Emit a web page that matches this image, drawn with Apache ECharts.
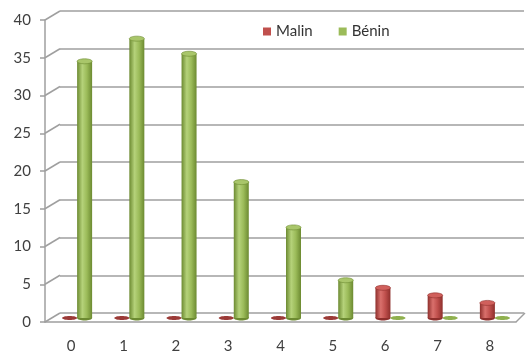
<!DOCTYPE html>
<html>
<head>
<meta charset="utf-8">
<script src="https://cdn.jsdelivr.net/npm/echarts@6/dist/echarts.min.js"></script>
<style>
  html, body { margin: 0; background: #fff; }
  #chart { width: 527px; height: 360px; }
</style>
</head>
<body>
<div id="chart"></div>
<script>
// données
const categories = ['0', '1', '2', '3', '4', '5', '6', '7', '8'];
const malin = [0, 0, 0, 0, 0, 0, 4, 3, 2];
const benin = [34, 37, 35, 18, 12, 5, 0, 0, 0];
const yTicks = [0, 5, 10, 15, 20, 25, 30, 35, 40];

const FONT = 'Lato';
const GRID_COLOR = '#9f9f9f';

const chart = echarts.init(document.getElementById('chart'));

// cylindre façon Excel : corps dégradé + ellipses haut/bas
function cylinder(shift, c) {
  return function (params, api) {
    const i = api.value(0), v = api.value(1);
    const top = api.coord([i, v]);
    const base = api.coord([i, 0]);
    const w = 15, rx = w / 2, ry = 2.5;
    const cx = top[0] + shift;
    if (!v) {
      return {
        type: 'ellipse',
        shape: { cx: cx, cy: base[1], rx: rx, ry: 2 },
        style: { fill: c.flat }
      };
    }
    return {
      type: 'group',
      children: [
        { type: 'ellipse', shape: { cx: cx, cy: base[1], rx: rx, ry: ry }, style: { fill: c.dark } },
        {
          type: 'rect',
          shape: { x: cx - rx, y: top[1], width: w, height: base[1] - top[1] },
          style: {
            fill: new echarts.graphic.LinearGradient(0, 0, 1, 0, [
              { offset: 0, color: c.dark },
              { offset: 0.35, color: c.light },
              { offset: 0.65, color: c.base },
              { offset: 1, color: c.dark }
            ])
          }
        },
        { type: 'ellipse', shape: { cx: cx, cy: top[1], rx: rx, ry: ry },
          style: { fill: c.top, stroke: c.dark, lineWidth: 0.6 } }
      ]
    };
  };
}

const red = { base: '#c0504d', light: '#d9706c', dark: '#8e2f2c', top: '#d0605c', flat: '#9b3a37' };
const green = { base: '#9bbb59', light: '#b5d27a', dark: '#6c8a31', top: '#a9c66a', flat: '#8fb04e' };

// diagonales du mur gauche (avant -> fond)
function wallDiagonal(params, api) {
  const v = api.value(0);
  const p = api.coord([0, v]);
  const x0 = params.coordSys.x;
  const x1 = x0 + params.coordSys.width;
  const children = [{
    type: 'line',
    shape: { x1: x0, y1: p[1], x2: x0 + 15, y2: p[1] - 9 },
    style: { stroke: GRID_COLOR, lineWidth: 1.5 }
  }];
  if (v === 0) {
    children.push({
      type: 'line',
      shape: { x1: x1, y1: p[1], x2: x1 + 9, y2: p[1] - 9 },
      style: { stroke: GRID_COLOR, lineWidth: 1.5 }
    });
  }
  return { type: 'group', children: children };
}

const option = {
  backgroundColor: '#fff',
  animation: false,
  legend: {
    left: 258,
    top: 19,
    itemWidth: 8,
    itemHeight: 8,
    itemGap: 26,
    icon: 'rect',
    textStyle: { fontFamily: FONT, fontSize: 15, color: '#333' },
    data: ['Malin', 'Bénin']
  },
  grid: [
    // avant : axes et libellés
    { left: 45, right: 11, top: 20, bottom: 38 },
    // fond : lignes de grille
    { left: 60, right: 3, top: 11, bottom: 47 },
    // milieu : cylindres
    { left: 51, right: 6, top: 16, bottom: 42 }
  ],
  xAxis: [
    {
      gridIndex: 0, type: 'category', data: categories,
      axisLine: { lineStyle: { color: GRID_COLOR, width: 1.5 } },
      axisTick: { lineStyle: { color: GRID_COLOR, width: 1.5 }, length: 6 },
      axisLabel: { fontFamily: FONT, fontSize: 15, color: '#404040', margin: 17 }
    },
    { gridIndex: 1, type: 'category', data: categories, show: false },
    { gridIndex: 2, type: 'category', data: categories, show: false }
  ],
  yAxis: [
    {
      gridIndex: 0, type: 'value', min: 0, max: 40, interval: 5,
      axisLine: { show: true, lineStyle: { color: GRID_COLOR, width: 1.5 } },
      axisTick: { show: true, length: 5, lineStyle: { color: GRID_COLOR, width: 1.5 } },
      axisLabel: { fontFamily: FONT, fontSize: 15, color: '#404040', margin: 14 },
      splitLine: { show: false }
    },
    {
      gridIndex: 1, type: 'value', min: 0, max: 40, interval: 5,
      axisLine: { show: false }, axisTick: { show: false }, axisLabel: { show: false },
      splitLine: { show: true, lineStyle: { color: GRID_COLOR, width: 1.5 } }
    },
    { gridIndex: 2, type: 'value', min: 0, max: 40, interval: 5, show: false, splitLine: { show: false } }
  ],
  series: [
    {
      type: 'custom', xAxisIndex: 0, yAxisIndex: 0,
      data: yTicks.map(v => [v]),
      encode: { y: 0 },
      renderItem: wallDiagonal,
      clip: false, silent: true, legendHoverLink: false, z: 1
    },
    {
      name: 'Malin', type: 'custom', xAxisIndex: 2, yAxisIndex: 2,
      data: malin.map((v, i) => [i, v]),
      encode: { x: 0, y: 1 },
      itemStyle: { color: red.base },
      renderItem: cylinder(-7.5, red), clip: false, z: 3
    },
    {
      name: 'Bénin', type: 'custom', xAxisIndex: 2, yAxisIndex: 2,
      data: benin.map((v, i) => [i, v]),
      encode: { x: 0, y: 1 },
      itemStyle: { color: green.base },
      renderItem: cylinder(7.5, green), clip: false, z: 3
    }
  ]
};

chart.setOption(option);
</script>
</body>
</html>
